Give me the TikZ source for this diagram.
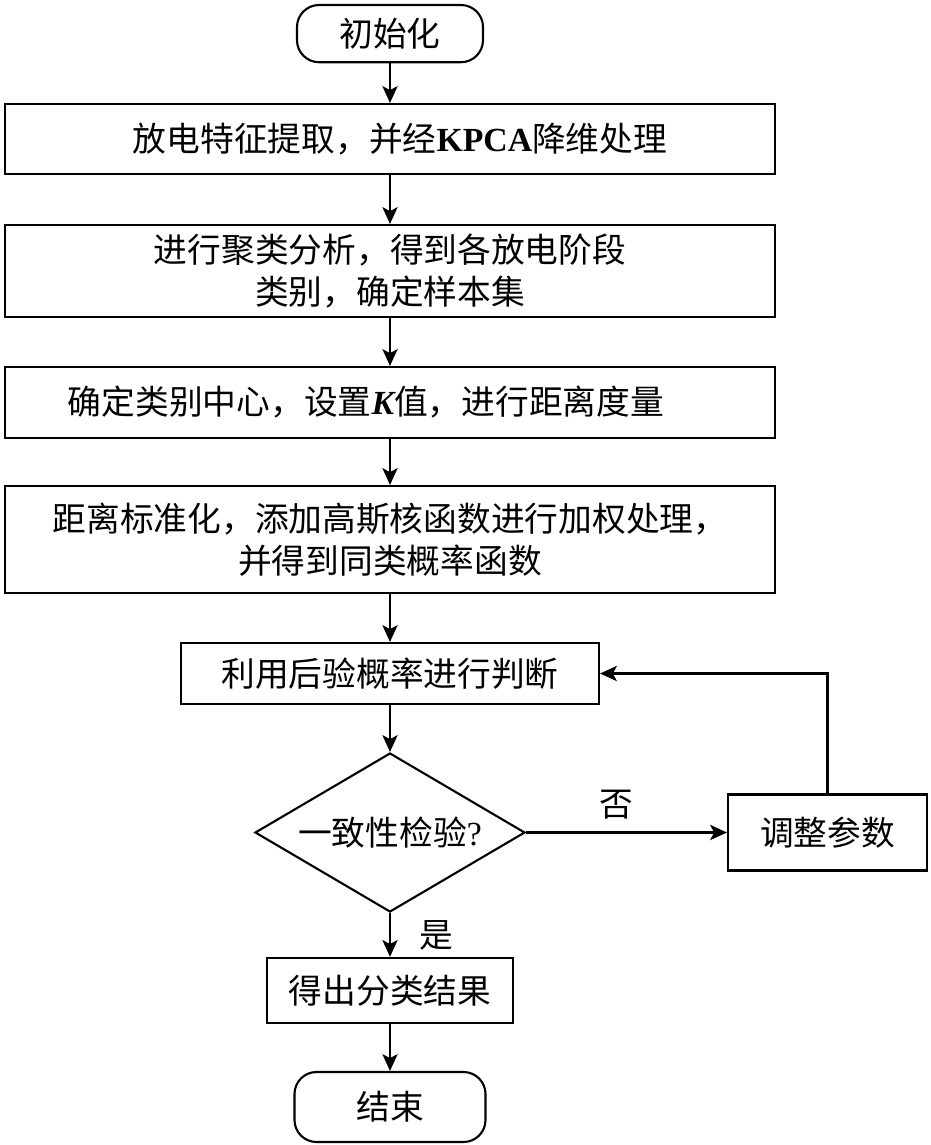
\documentclass[tikz,border=0pt]{standalone}
\usepackage{fontspec}
\setmainfont{Liberation Serif}
\newfontfamily\cjk{Noto Sans CJK SC}
\usetikzlibrary{arrows.meta, positioning, shapes.geometric}

\begin{document}
\begin{tikzpicture}[
    line width=1.5pt,
    every node/.style={font=\cjk\fontsize{24}{30}\selectfont},
    box/.style={draw, rectangle, align=center, inner sep=0pt},
    term/.style={draw, rectangle, rounded corners=0.55cm, inner sep=0pt},
    decide/.style={draw, diamond, aspect=1.7, inner sep=0pt},
    lbl/.style={inner sep=0pt},
    flow/.style={-{Stealth[length=0.42cm,width=0.38cm,inset=0.1cm]}}
  ]
  \useasboundingbox (0,0) rectangle (23.275,-28.625);
  % main column
  \node[term, minimum width=4.65cm, minimum height=1.43cm] (init) at (9.75,-0.84) {初始化};
  \node[box, minimum width=19.25cm, minimum height=1.75cm] (feat) at (9.75,-3.475)
    {\hspace*{0.5cm}放电特征提取，并经{\rmfamily\bfseries KPCA}降维处理};
  \node[box, minimum width=19.25cm, minimum height=2.3cm] (clus) at (9.75,-6.775)
    {进行聚类分析，得到各放电阶段\\类别，确定样本集};
  \node[box, minimum width=19.25cm, minimum height=1.775cm] (dist) at (9.75,-10.0625)
    {确定类别中心，设置{\rmfamily\bfseries\itshape K}值，进行距离度量\hspace*{1.2cm}};
  \node[box, minimum width=19.25cm, minimum height=2.675cm] (kern) at (9.75,-13.4875)
    {距离标准化，添加高斯核函数进行加权处理，\\并得到同类概率函数};
  \node[box, minimum width=10.45cm, minimum height=1.525cm] (judge) at (9.75,-16.8375)
    {利用后验概率进行判断};
  \node[decide, minimum width=6.75cm, minimum height=3.975cm] (check) at (9.75,-20.8125)
    {一致性检验{\rmfamily ?}};
  \node[box, minimum width=4.975cm, minimum height=1.9cm] (adjust) at (20.6875,-20.8125)
    {调整参数};
  \node[box, minimum width=6.15cm, minimum height=1.625cm] (result) at (9.75,-24.76)
    {得出分类结果};
  \node[term, minimum width=4.775cm, minimum height=1.75cm] (stop) at (9.75,-27.675) {结束};
  % connectors
  \draw[flow] (init) -- (feat);
  \draw[flow] (feat) -- (clus);
  \draw[flow] (clus) -- (dist);
  \draw[flow] (dist) -- (kern);
  \draw[flow] (kern) -- (judge);
  \draw[flow] (judge) -- (check);
  \draw[flow] (check) -- node[lbl, above=0.3cm, pos=0.45] {否} (adjust);
  \draw[flow] (adjust.north) |- (judge.east);
  \draw[flow] (check) -- node[lbl, right=0.7cm] {是} (result);
  \draw[flow] (result) -- (stop);
\end{tikzpicture}
\end{document}
